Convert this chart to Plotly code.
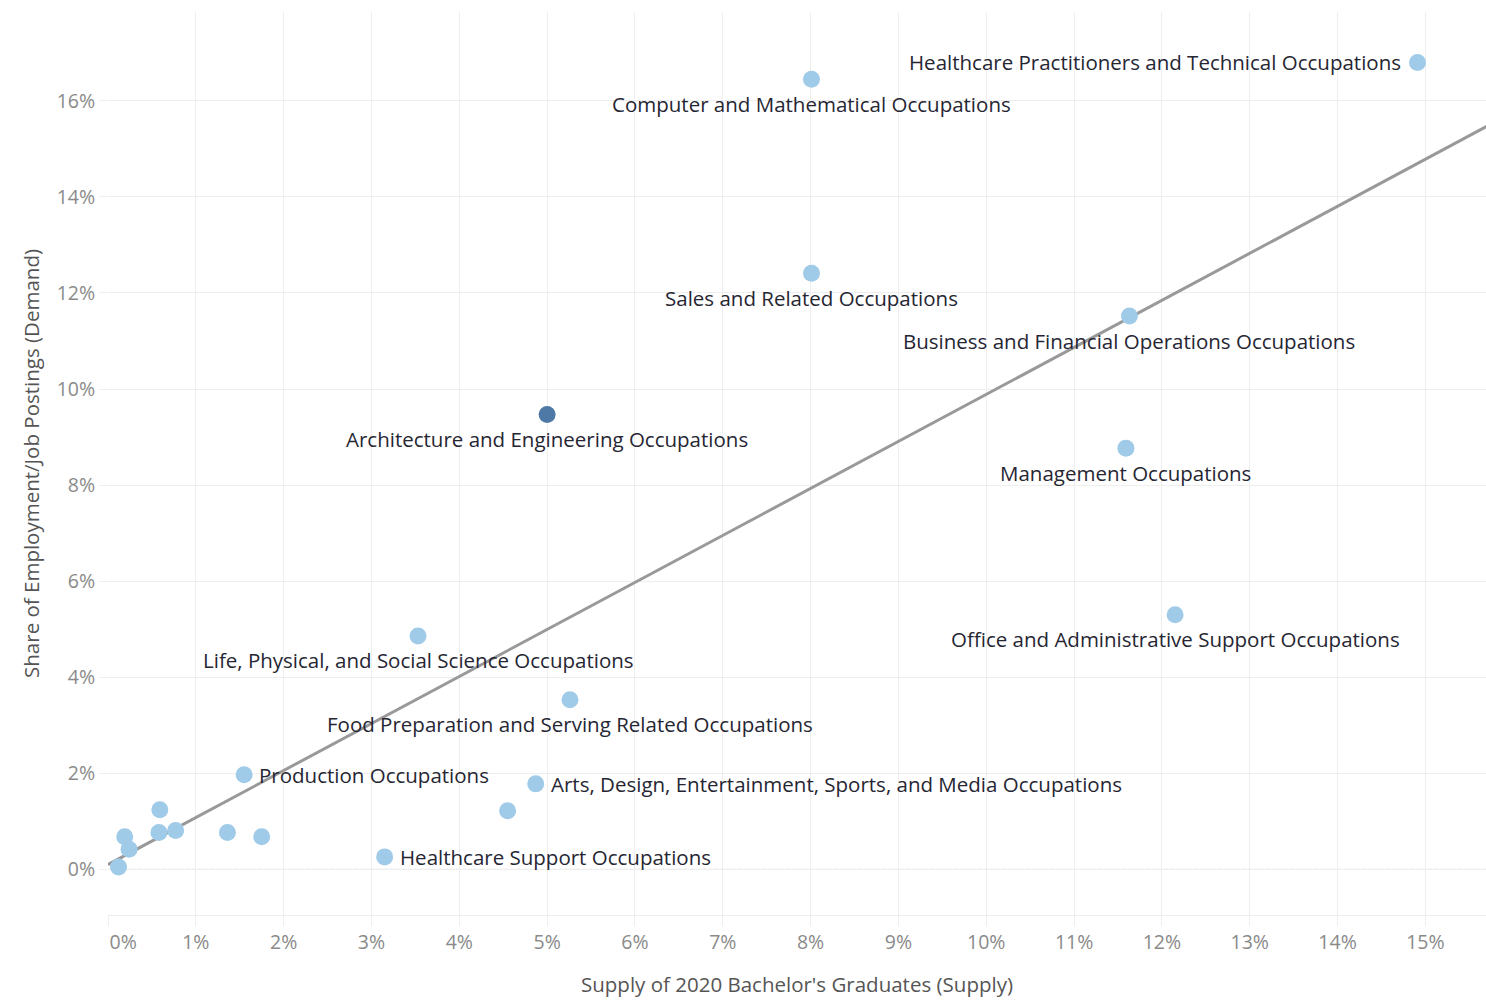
import plotly.graph_objects as go

# Data (percent values)
occupations = [
    "Healthcare Practitioners and Technical Occupations",
    "Computer and Mathematical Occupations",
    "Sales and Related Occupations",
    "Business and Financial Operations Occupations",
    "Architecture and Engineering Occupations",
    "Management Occupations",
    "Office and Administrative Support Occupations",
    "Life, Physical, and Social Science Occupations",
    "Food Preparation and Serving Related Occupations",
    "Production Occupations",
    "Arts, Design, Entertainment, Sports, and Media Occupations",
    "Healthcare Support Occupations",
    "", "", "", "", "", "", "", "", "",
]
supply = [14.91, 8.01, 8.01, 11.63, 5.00, 11.59, 12.15, 3.53, 5.26, 1.55, 4.87, 3.15,
          4.55, 0.12, 0.19, 0.24, 0.58, 0.59, 0.77, 1.36, 1.75]
demand = [16.80, 16.45, 12.41, 11.52, 9.47, 8.77, 5.30, 4.86, 3.53, 1.97, 1.78, 0.26,
          1.22, 0.05, 0.68, 0.42, 0.77, 1.24, 0.81, 0.77, 0.68]
highlight = "Architecture and Engineering Occupations"
label_side = {
    "Healthcare Practitioners and Technical Occupations": "left",
    "Production Occupations": "right",
    "Arts, Design, Entertainment, Sports, and Media Occupations": "right",
    "Healthcare Support Occupations": "right",
}

trend_x = [0.0, 15.7]
trend_y = [0.1, 15.47]

x_ticks = list(range(0, 16))
y_ticks = [0, 2, 4, 6, 8, 10, 12, 14, 16]

LIGHT = "#A0CBE8"
DARK = "#4E79A7"
LABEL_FONT = dict(family="Open Sans", size=20.5, color="#262633")

fig = go.Figure()

fig.add_trace(go.Scatter(
    x=trend_x, y=trend_y, mode="lines",
    line=dict(color="#999999", width=3),
    hoverinfo="skip", showlegend=False,
))

colors = [DARK if o == highlight else LIGHT for o in occupations]

fig.add_trace(go.Scatter(
    x=supply, y=demand, mode="markers",
    marker=dict(size=17, color=colors),
    text=occupations, hoverinfo="text+x+y",
    showlegend=False,
))

for name, xv, yv in zip(occupations, supply, demand):
    if not name:
        continue
    side = label_side.get(name, "below")
    if side == "left":
        fig.add_annotation(x=xv, y=yv, text=name, showarrow=False,
                           xanchor="right", yanchor="middle", xshift=-15,
                           font=LABEL_FONT)
    elif side == "right":
        fig.add_annotation(x=xv, y=yv, text=name, showarrow=False,
                           xanchor="left", yanchor="middle", xshift=13,
                           font=LABEL_FONT)
    else:
        fig.add_annotation(x=xv, y=yv, text=name, showarrow=False,
                           xanchor="center", yanchor="middle", yshift=-24.5,
                           font=LABEL_FONT)

fig.add_shape(type="line", xref="paper", x0=0, x1=1, yref="y", y0=0, y1=0,
              line=dict(color="#c4c4c4", width=1, dash="4px,2px"), layer="below")

x_text = [f"{v}%" for v in x_ticks]
x_text[0] = "\u00a0" * 6 + x_text[0]

fig.update_layout(
    width=1486, height=1000,
    margin=dict(l=108, r=0, t=12, b=85),
    plot_bgcolor="white", paper_bgcolor="white",
    font=dict(family="Open Sans", color="#555555"),
    xaxis=dict(
        range=[0, 15.69],
        tickvals=x_ticks,
        ticktext=x_text,
        tickfont=dict(size=19.5, color="#8a8a8a"),
        showgrid=True, gridcolor="#eeeeee", gridwidth=1,
        zeroline=False, showline=True, linecolor="#eeeeee", linewidth=1,
        automargin=False,
        ticks="outside", ticklen=10, tickcolor="#eeeeee",
        title=dict(text="Supply of 2020 Bachelor's Graduates (Supply)",
                   font=dict(size=20.5, color="#555555"), standoff=23),
    ),
    yaxis=dict(
        range=[-0.95, 17.85],
        tickvals=y_ticks,
        ticktext=[f"{v}%" for v in y_ticks],
        tickfont=dict(size=19.5, color="#8a8a8a"),
        showgrid=True, gridcolor="#eeeeee", gridwidth=1,
        zeroline=False, showline=False, automargin=False,
        ticks="outside", ticklen=8, tickcolor="#eeeeee",
        title=dict(text="Share of Employment/Job Postings (Demand)",
                   font=dict(size=20.5, color="#555555"), standoff=11),
    ),
)

fig.write_html(
    "out.html",
    config={"displayModeBar": False},
    post_script="document.body.style.margin='0';document.body.style.overflow='hidden';",
)
